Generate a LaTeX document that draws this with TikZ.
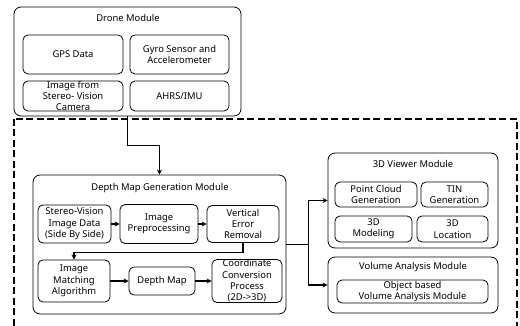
\documentclass[tikz,border=0pt]{standalone}
\usepackage{fontspec}
\setmainfont{Noto Sans}
\usetikzlibrary{arrows.meta}
\begin{document}
\begin{tikzpicture}[x=1pt,y=-1pt,
    modul/.style={
        rectangle,draw,rounded corners=7pt,line width=.8pt
    },
    kotak/.style={
        rectangle,draw,rounded corners=5pt,line width=.8pt,
        align=center,inner sep=0pt
    },
    panah/.style={-{Stealth[length=5pt,width=5pt]},line width=1.1pt}]
    \fontsize{9.4}{11.4}\selectfont
    \useasboundingbox (0,0) rectangle (520,326);
    \draw[line width=2.6pt,dash pattern=on 7pt off 3.5pt] (14,119) rectangle (517,345);

    \node [modul,minimum width=227pt,minimum height=109pt] (drone) at (127.5,61.5) {};
    \node (dronetitle) at (128,18) {Drone Module};
    \node [kotak,minimum width=100pt,minimum height=39pt] (gps) at (73,54.5) {GPS Data};
    \node [kotak,minimum width=99pt,minimum height=39pt] (gyro) at (179.5,54.5) {Gyro Sensor and\\Accelerometer};
    \node [kotak,minimum width=100pt,minimum height=30pt] (kamera) at (73,96) {Image from\\Stereo- Vision\\Camera};
    \node [kotak,minimum width=99pt,minimum height=30pt] (ahrs) at (179.5,96) {AHRS/IMU};

    \node [modul,minimum width=253pt,minimum height=139pt] (depthmod) at (159.5,244.5) {};
    \node (depthtitle) at (160,188) {Depth Map Generation Module};
    \node [kotak,minimum width=73pt,minimum height=38pt] (stereo) at (74.5,224) {Stereo-Vision\\Image Data\\(Side By Side)};
    \node [kotak,minimum width=78pt,minimum height=39pt] (prep) at (159,224) {Image\\Preprocessing};
    \node [kotak,minimum width=72pt,minimum height=37pt] (vert) at (243,224) {Vertical\\Error\\Removal};
    \node [kotak,minimum width=72pt,minimum height=42pt] (match) at (74,281) {Image\\Matching\\Algorithm};
    \node [kotak,minimum width=66pt,minimum height=28pt] (depthmap) at (162,281) {Depth Map};
    \node [kotak,minimum width=70pt,minimum height=43pt] (konversi) at (247,281) {Coordinate\\Conversion\\Process\\(2D->3D)};

    \node [modul,minimum width=170pt,minimum height=95pt] (viewer) at (413,200.5) {};
    \node (viewertitle) at (413,164) {3D Viewer Module};
    \node [kotak,minimum width=82pt,minimum height=25pt] (cloud) at (376,194.5) {Point Cloud\\Generation};
    \node [kotak,minimum width=67pt,minimum height=25pt] (tin) at (454.5,194.5) {TIN\\Generation};
    \node [kotak,minimum width=77pt,minimum height=26pt] (modeling) at (373.5,229) {3D\\Modeling};
    \node [kotak,minimum width=71pt,minimum height=26pt] (lokasi) at (452.5,229) {3D\\Location};

    \node [modul,minimum width=170pt,minimum height=56pt] (volume) at (413,285) {};
    \node (volumetitle) at (413,267) {Volume Analysis Module};
    \node [kotak,minimum width=151pt,minimum height=23pt] (objvol) at (412.5,291.5) {Object based\\Volume Analysis Module};

    \draw [panah] (drone.south) -- ++(0,29) -| (depthmod.north);
    \draw [panah] (stereo) -- (prep);
    \draw [panah] (prep) -- (vert);
    \draw [panah] (vert.south) -- ++(0,10) -| (match.north);
    \draw [panah] (match) -- (depthmap);
    \draw [panah] (depthmap) -- (konversi);
    \coordinate (cabang) at ([xshift=22pt]depthmod.east);
    \draw [line width=1.1pt] (depthmod.east) -- (cabang);
    \draw [panah] (cabang) |- (viewer.west);
    \draw [panah] (cabang) |- (volume.west);
\end{tikzpicture}
\end{document}
